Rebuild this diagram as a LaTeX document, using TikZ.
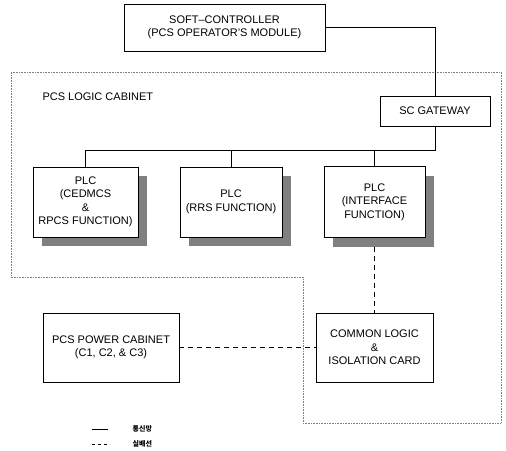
\documentclass[tikz,border=0pt]{standalone}
\usepackage{fontspec}
\setmainfont{Liberation Sans}
\newfontfamily\kor{Noto Sans CJK KR}
\usepackage{tikz}
\usetikzlibrary{shapes, arrows, positioning, shadows}
\tikzstyle{caja} = [draw, fill=white, line width=0.8pt, rectangle, align=center, inner sep=2pt, font=\fontsize{11}{13.5}\selectfont]
\tikzstyle{plc} = [caja, drop shadow={shadow xshift=9pt, shadow yshift=-9pt, fill=black!50, opacity=1}]
\tikzstyle{enlace} = [line width=0.9pt]
\tikzstyle{cableado} = [line width=0.8pt, dash pattern=on 5pt off 4pt]
\tikzstyle{gabinete} = [gray, densely dotted, line width=0.6pt]
\tikzstyle{leyenda} = [anchor=west, xshift=21pt, font=\kor\bfseries\fontsize{7}{8}\selectfont]

\begin{document}
\begin{tikzpicture}[x=1pt, y=-1pt]
	\useasboundingbox (0,0) rectangle (506,450);
	\draw[gabinete] (11,72) -- (501,72) -- (501,423) -- (303,423) -- (303,277) -- (11,277) -- cycle;
	\node[anchor=west, font=\fontsize{11}{13.5}\selectfont] (logica) at (39,97) {PCS LOGIC CABINET};

	\node [caja, minimum width=201pt, minimum height=47pt] (soft) at (224.5,27.5) {SOFT--CONTROLLER\\(PCS OPERATOR'S MODULE)};
	\node [caja, minimum width=110pt, minimum height=30pt] (gw) at (435,111) {SC GATEWAY};
	\node [plc, minimum width=105pt, minimum height=70pt] (plcA) at (85.5,202) {PLC\\(CEDMCS\\\&\\RPCS FUNCTION)};
	\node [plc, minimum width=102pt, minimum height=70pt] (plcB) at (231,202) {PLC\\(RRS FUNCTION)};
	\node [plc, minimum width=101pt, minimum height=71pt] (plcC) at (374.5,202) {PLC\\(INTERFACE\\FUNCTION)};
	\node [caja, minimum width=136pt, minimum height=69pt] (potencia) at (111,347.5) {PCS POWER CABINET\\(C1, C2, \& C3)};
	\node [caja, minimum width=117pt, minimum height=69pt] (comun) at (374.5,347.5) {COMMON LOGIC\\\&\\ISOLATION CARD};

	\coordinate (bus) at (0,150);
	\draw[enlace] (soft.east) -| (gw.north);
	\draw[enlace] (gw.south) |- (bus -| plcA.north) -- (plcA.north);
	\draw[enlace] (bus -| plcB.north) -- (plcB.north);
	\draw[enlace] (bus -| plcC.north) -- (plcC.north);
	\draw[cableado] ([yshift=-9pt]plcC.south) -- (comun.north);
	\draw[cableado] (potencia.east) -- (comun.west);

	% leyenda
	\coordinate (ley1) at (92,429);
	\coordinate (ley2) at (92,444);
	\draw[line width=0.6pt] (ley1) -- ++(16,0) node[leyenda] (txt1) {통신망};
	\draw[line width=0.6pt, dash pattern=on 3pt off 3pt] (ley2) -- ++(16,0) node[leyenda] (txt2) {실배선};
\end{tikzpicture}
\end{document}
